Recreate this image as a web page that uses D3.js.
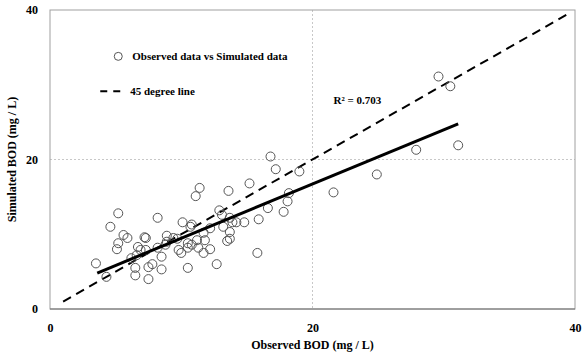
<!DOCTYPE html>
<html>
<head>
<meta charset="utf-8">
<script src="https://cdn.jsdelivr.net/npm/d3@7"></script>
<style>
  body { margin: 0; background: #fff; }
  text { font-family: "Liberation Serif", "Times New Roman", serif; font-weight: bold; }
</style>
</head>
<body>
<div id="chart"></div>
<script>
const svgWidth = 585;
const svgHeight = 353;
const margin = { top: 10, right: 10, bottom: 44, left: 50 };

const width = svgWidth - margin.left - margin.right;
const height = svgHeight - margin.top - margin.bottom;

// observed vs simulated BOD (mg/L)
const observed = [29.6, 30.5, 31.1, 27.9, 24.9, 21.6, 19.0, 16.8, 17.2, 15.8,
  11.4, 11.1, 13.6, 15.2, 18.2, 18.1, 16.6, 17.8, 12.9, 13.1,
  13.7, 15.9, 5.2, 8.2, 4.6, 10.1, 10.7, 5.6, 5.9, 7.2,
  7.3, 5.2, 5.1, 8.9, 8.9, 9.4, 6.7, 6.9, 7.3, 8.2,
  8.8, 8.5, 6.6, 6.2, 9.8, 10.0, 10.5, 10.5, 3.5, 7.5,
  7.8, 8.5, 6.5, 6.5, 4.3, 7.5, 10.5, 10.8, 12.2, 13.2,
  13.9, 14.2, 14.8, 13.7, 13.5, 13.7, 11.7, 11.2, 11.8, 10.8,
  11.3, 12.2, 11.7, 12.7, 9.7];
const simulated = [31.1, 29.8, 21.9, 21.3, 18.0, 15.6, 18.4, 20.4, 18.7, 7.5,
  16.2, 15.1, 15.8, 16.8, 15.5, 14.4, 13.5, 13.0, 13.2, 12.6,
  12.2, 12.0, 12.8, 12.2, 11.0, 11.6, 11.0, 9.9, 9.5, 9.6,
  9.5, 8.8, 8.0, 9.8, 9.0, 9.5, 8.3, 7.9, 7.9, 8.2,
  8.6, 7.0, 7.2, 6.8, 7.9, 7.5, 8.8, 8.2, 6.1, 5.6,
  6.0, 5.3, 5.5, 4.5, 4.3, 4.0, 5.5, 11.3, 10.8, 11.0,
  11.6, 11.6, 11.6, 10.3, 9.1, 9.4, 10.2, 9.2, 9.2, 8.6,
  8.2, 8.0, 7.5, 6.0, 9.4];

const ticks = [0, 20, 40];
const oneToOne = [1, 39.5];         // 45 degree line extent
const fitRange = [3.6, 31.1];        // trend line extent
const fitSlope = 0.726;
const fitIntercept = 2.2;
const rSquared = "R² = 0.703";

const svg = d3.select("#chart")
    .append("svg")
    .attr("width", svgWidth)
    .attr("height", svgHeight)
    .append("g")
    .attr("transform", `translate(${margin.left}, ${margin.top})`);

const x = d3.scaleLinear().domain([0, 40]).range([0, width]);
const y = d3.scaleLinear().domain([0, 40]).range([height, 0]);

// gridlines at 20
svg.append("line")
    .attr("x1", x(20)).attr("x2", x(20))
    .attr("y1", 0).attr("y2", height)
    .attr("stroke", "#c8c8c8").attr("stroke-dasharray", "2,2");
svg.append("line")
    .attr("x1", 0).attr("x2", width)
    .attr("y1", y(20)).attr("y2", y(20))
    .attr("stroke", "#c8c8c8").attr("stroke-dasharray", "2,2");

// frame
svg.append("rect")
    .attr("width", width).attr("height", height)
    .attr("fill", "none").attr("stroke", "#a0a0a0");
svg.append("line")
    .attr("x1", 0).attr("x2", width)
    .attr("y1", height).attr("y2", height)
    .attr("stroke", "#6e6e6e");

// axes labels
const xAxis = d3.axisBottom(x).tickValues(ticks).tickSize(0).tickPadding(14);
const yAxis = d3.axisLeft(y).tickValues(ticks).tickSize(0).tickPadding(12);

svg.append("g")
    .attr("transform", `translate(0, ${height})`)
    .call(xAxis)
    .call(g => g.select(".domain").remove())
    .selectAll("text")
    .attr("font-size", 12).attr("fill", "#000");

svg.append("g")
    .call(yAxis)
    .call(g => g.select(".domain").remove())
    .selectAll("text")
    .attr("font-size", 12).attr("fill", "#000");

svg.append("text")
    .attr("x", x(20)).attr("y", height + 40)
    .attr("text-anchor", "middle").attr("font-size", 12)
    .text("Observed BOD (mg / L)");

svg.append("text")
    .attr("transform", `translate(-34, ${y(20)}) rotate(-90)`)
    .attr("text-anchor", "middle").attr("font-size", 12)
    .text("Simulated BOD (mg / L)");

// 45 degree line
svg.append("line")
    .attr("x1", x(oneToOne[0])).attr("y1", y(oneToOne[0]))
    .attr("x2", x(oneToOne[1])).attr("y2", y(oneToOne[1]))
    .attr("stroke", "#000").attr("stroke-width", 2)
    .attr("stroke-dasharray", "9,6");

// points
svg.append("g")
    .selectAll("circle")
    .data(observed.map((d, i) => [d, simulated[i]]))
    .enter()
    .append("circle")
    .attr("cx", d => x(d[0]))
    .attr("cy", d => y(d[1]))
    .attr("r", 4.5)
    .attr("fill", "none")
    .attr("stroke", "#555")
    .attr("stroke-width", 1);

// trend line
svg.append("line")
    .attr("x1", x(fitRange[0])).attr("y1", y(fitSlope * fitRange[0] + fitIntercept))
    .attr("x2", x(fitRange[1])).attr("y2", y(fitSlope * fitRange[1] + fitIntercept))
    .attr("stroke", "#000").attr("stroke-width", 3);

svg.append("text")
    .attr("x", x(21.6)).attr("y", y(27.4))
    .attr("font-size", 11)
    .text(rSquared);

// legend
const legend = svg.append("g").attr("transform", `translate(${x(5.2)}, ${y(33.8)})`);
legend.append("circle")
    .attr("cx", 0).attr("cy", 0).attr("r", 4)
    .attr("fill", "none").attr("stroke", "#555");
legend.append("text")
    .attr("x", 14).attr("y", 4).attr("font-size", 11)
    .text("Observed data vs Simulated data");
legend.append("line")
    .attr("x1", -18).attr("x2", 2).attr("y1", 35).attr("y2", 35)
    .attr("stroke", "#000").attr("stroke-width", 2).attr("stroke-dasharray", "7,6");
legend.append("text")
    .attr("x", 12).attr("y", 39).attr("font-size", 11)
    .text("45 degree line");
</script>
</body>
</html>
